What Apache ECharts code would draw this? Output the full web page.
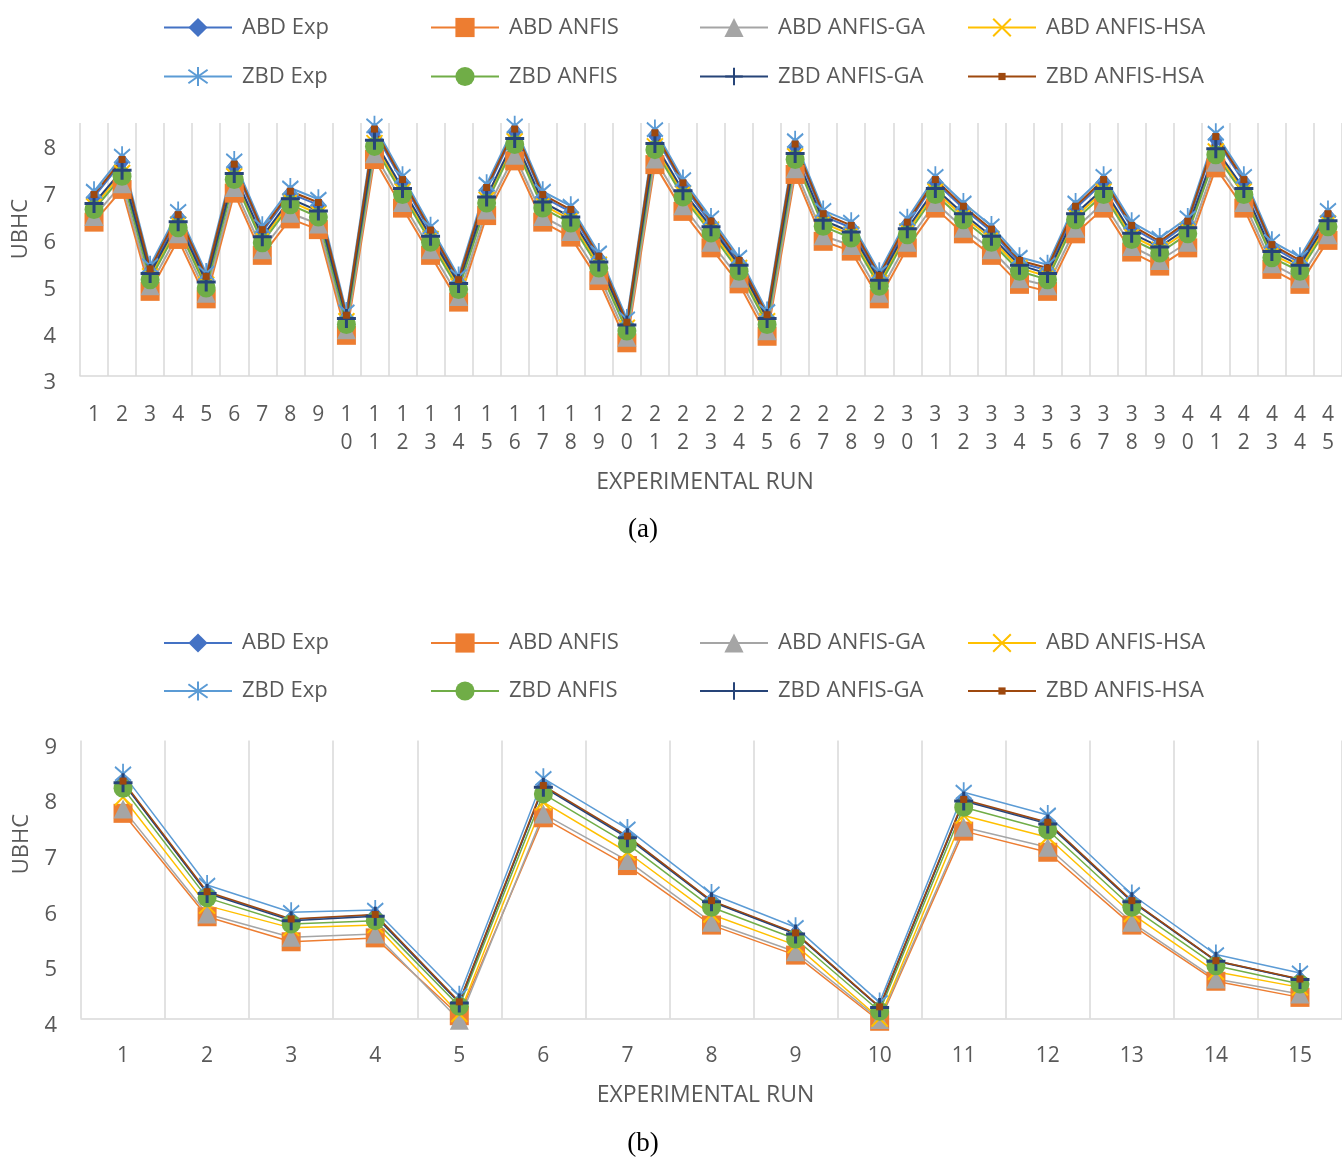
<!DOCTYPE html>
<html>
<head>
<meta charset="utf-8">
<script src="https://cdn.jsdelivr.net/npm/echarts@6/dist/echarts.min.js"></script>
<style>
  html, body { margin: 0; padding: 0; background: #ffffff; }
  #chart { width: 1342px; height: 1159px; }
</style>
</head>
<body>
<div id="chart"></div>
<script>
// ---- Panel (a): 45 experimental runs ----
const runsA = ['1','2','3','4','5','6','7','8','9','10','11','12','13','14','15','16','17','18','19','20',
  '21','22','23','24','25','26','27','28','29','30','31','32','33','34','35','36','37','38','39','40',
  '41','42','43','44','45'];

const abdExpA   = [6.83, 7.58, 5.24, 6.40, 5.08, 7.48, 6.08, 6.90, 6.66, 4.25, 8.23, 7.15, 6.07, 5.01, 6.98, 8.23, 6.83, 6.51, 5.51, 4.10, 8.15, 7.08, 6.26, 5.42, 4.26, 7.91, 6.42, 6.17, 5.10, 6.24, 7.15, 6.58, 6.09, 5.42, 5.26, 6.58, 7.15, 6.17, 5.83, 6.26, 8.07, 7.15, 5.76, 5.42, 6.42];
const abdAnfisA = [6.29, 6.99, 4.81, 5.92, 4.65, 6.91, 5.58, 6.36, 6.13, 3.87, 7.63, 6.59, 5.58, 4.58, 6.43, 7.60, 6.29, 5.97, 5.04, 3.71, 7.52, 6.52, 5.74, 4.97, 3.85, 7.31, 5.88, 5.67, 4.65, 5.74, 6.59, 6.04, 5.58, 4.96, 4.81, 6.04, 6.59, 5.65, 5.35, 5.74, 7.45, 6.59, 5.28, 4.96, 5.90];
const abdGaA    = [6.41, 7.11, 4.93, 6.04, 4.77, 7.03, 5.70, 6.48, 6.25, 3.99, 7.75, 6.71, 5.70, 4.70, 6.55, 7.72, 6.41, 6.09, 5.16, 3.83, 7.64, 6.64, 5.86, 5.09, 3.97, 7.43, 6.00, 5.79, 4.77, 5.86, 6.71, 6.16, 5.70, 5.08, 4.93, 6.16, 6.71, 5.77, 5.47, 5.86, 7.57, 6.71, 5.40, 5.08, 6.02];
const abdHsaA   = [6.63, 7.34, 5.13, 6.24, 4.95, 7.27, 5.92, 6.73, 6.47, 4.17, 7.98, 6.95, 5.93, 4.92, 6.77, 8.02, 6.66, 6.34, 5.38, 4.03, 7.91, 6.90, 6.13, 5.31, 4.17, 7.70, 6.27, 6.02, 4.99, 6.09, 6.95, 6.41, 5.93, 5.31, 5.13, 6.41, 6.95, 5.99, 5.70, 6.11, 7.80, 6.95, 5.60, 5.31, 6.26];
const zbdExpA   = [6.95, 7.70, 5.36, 6.52, 5.20, 7.60, 6.20, 7.02, 6.78, 4.37, 8.35, 7.27, 6.19, 5.13, 7.10, 8.35, 6.95, 6.63, 5.63, 4.22, 8.27, 7.20, 6.38, 5.54, 4.38, 8.03, 6.54, 6.29, 5.22, 6.36, 7.27, 6.70, 6.21, 5.54, 5.38, 6.70, 7.27, 6.29, 5.95, 6.38, 8.19, 7.27, 5.88, 5.54, 6.54];
const zbdAnfisA = [6.56, 7.27, 5.06, 6.17, 4.88, 7.20, 5.85, 6.66, 6.40, 4.10, 7.91, 6.88, 5.86, 4.85, 6.70, 7.95, 6.59, 6.27, 5.31, 3.96, 7.84, 6.83, 6.06, 5.24, 4.10, 7.63, 6.20, 5.95, 4.92, 6.02, 6.88, 6.34, 5.86, 5.24, 5.06, 6.34, 6.88, 5.92, 5.63, 6.04, 7.73, 6.88, 5.53, 5.24, 6.19];
const zbdGaA    = [6.69, 7.40, 5.19, 6.30, 5.01, 7.33, 5.98, 6.79, 6.53, 4.23, 8.04, 7.01, 5.99, 4.98, 6.83, 8.08, 6.72, 6.40, 5.44, 4.09, 7.97, 6.96, 6.19, 5.37, 4.23, 7.76, 6.33, 6.08, 5.05, 6.15, 7.01, 6.47, 5.99, 5.37, 5.19, 6.47, 7.01, 6.05, 5.76, 6.17, 7.86, 7.01, 5.66, 5.37, 6.32];
const zbdHsaA   = [6.88, 7.63, 5.29, 6.45, 5.13, 7.53, 6.13, 6.95, 6.71, 4.30, 8.28, 7.20, 6.12, 5.06, 7.03, 8.28, 6.88, 6.56, 5.56, 4.15, 8.20, 7.13, 6.31, 5.47, 4.31, 7.96, 6.47, 6.22, 5.15, 6.29, 7.20, 6.63, 6.14, 5.47, 5.31, 6.63, 7.20, 6.22, 5.88, 6.31, 8.12, 7.20, 5.81, 5.47, 6.47];

// ---- Panel (b): 15 experimental runs ----
const runsB = ['1','2','3','4','5','6','7','8','9','10','11','12','13','14','15'];

const abdExpB   = [8.25, 6.26, 5.78, 5.86, 4.29, 8.17, 7.27, 6.11, 5.53, 4.20, 7.92, 7.52, 6.11, 5.04, 4.70];
const abdAnfisB = [7.69, 5.83, 5.38, 5.45, 4.05, 7.61, 6.75, 5.68, 5.14, 3.95, 7.37, 6.99, 5.68, 4.67, 4.38];
const abdGaB    = [7.77, 5.88, 5.46, 5.52, 3.97, 7.68, 6.84, 5.73, 5.20, 3.98, 7.44, 7.08, 5.73, 4.71, 4.44];
const abdHsaB   = [7.98, 6.03, 5.63, 5.68, 4.08, 7.89, 6.99, 5.87, 5.32, 4.00, 7.65, 7.26, 5.88, 4.84, 4.56];
const zbdExpB   = [8.40, 6.40, 5.91, 5.95, 4.41, 8.32, 7.41, 6.24, 5.64, 4.29, 8.07, 7.66, 6.23, 5.15, 4.82];
const zbdAnfisB = [8.14, 6.17, 5.70, 5.76, 4.22, 8.04, 7.14, 6.00, 5.43, 4.13, 7.80, 7.39, 6.00, 4.95, 4.62];
const zbdGaB    = [8.24, 6.25, 5.76, 5.84, 4.28, 8.16, 7.25, 6.10, 5.52, 4.20, 7.91, 7.50, 6.10, 5.03, 4.70];
const zbdHsaB   = [8.27, 6.28, 5.79, 5.87, 4.30, 8.19, 7.28, 6.12, 5.54, 4.21, 7.94, 7.53, 6.12, 5.04, 4.71];

const seriesNames = ['ABD Exp', 'ABD ANFIS', 'ABD ANFIS-GA', 'ABD ANFIS-HSA',
                     'ZBD Exp', 'ZBD ANFIS', 'ZBD ANFIS-GA', 'ZBD ANFIS-HSA'];
const yTicksA = [3, 8.41];   // value axis range of panel (a)
const yTicksB = [4, 9];      // value axis range of panel (b)

// Marker look for each series (same order as seriesNames)
const STAR = 'path://M0,-10L0,10M-7,-7L7,7M-7,7L7,-7';
const PLUS = 'path://M-10,0L10,0M0,-10L0,10';
const CROSS = 'path://M-7,-7L7,7M-7,7L7,-7';
const markerStyles = [
  { color: '#4472C4', symbol: 'diamond',  size: [15, 19], stroke: 0, legendH: 24 },
  { color: '#ED7D31', symbol: 'rect',     size: 19,       stroke: 0, legendH: 24 },
  { color: '#A5A5A5', symbol: 'triangle', size: 19,       stroke: 0, legendH: 24 },
  { color: '#FFC000', symbol: CROSS,      size: 16,       stroke: 2, legendH: 22 },
  { color: '#5B9BD5', symbol: STAR,       size: [16, 20], stroke: 2, legendH: 24 },
  { color: '#70AD47', symbol: 'circle',   size: 19,       stroke: 0, legendH: 24 },
  { color: '#264478', symbol: PLUS,       size: 19,       stroke: 3, legendH: 22 },
  { color: '#9E480E', symbol: 'rect',     size: 7,        stroke: 0, legendH: 9 }
];

const dataA = [abdExpA, abdAnfisA, abdGaA, abdHsaA, zbdExpA, zbdAnfisA, zbdGaA, zbdHsaA];
const dataB = [abdExpB, abdAnfisB, abdGaB, abdHsaB, zbdExpB, zbdAnfisB, zbdGaB, zbdHsaB];

const TEXT = '#595959';
const GRIDLINE = '#d9d9d9';
const FONT = 'Open Sans';

function buildSeries(sets, axisIndex, lineWidth) {
  return seriesNames.map((name, i) => {
    const s = markerStyles[i];
    return {
      name: name,
      type: 'line',
      xAxisIndex: axisIndex,
      yAxisIndex: axisIndex,
      data: sets[i],
      symbol: s.symbol,
      symbolSize: s.size,
      showSymbol: true,
      showAllSymbol: true,
      clip: false,
      animation: false,
      lineStyle: { color: s.color, width: lineWidth },
      itemStyle: { color: s.color, borderColor: s.color, borderWidth: s.stroke },
      emphasis: { disabled: true }
    };
  });
}

// Legend: two rows of four entries for each panel
const legendCols = [163, 430, 699, 967];
function buildLegends(rowCenters) {
  const out = [];
  seriesNames.forEach((name, i) => {
    const r = Math.floor(i / 4), c = i % 4;
    const h = markerStyles[i].legendH;
    out.push({
      data: [name],
      left: legendCols[c],
      top: rowCenters[r] - 9,
      orient: 'horizontal',
      padding: 0,
      itemWidth: 68,
      itemHeight: h,
      selectedMode: false,
      textStyle: { color: TEXT, fontSize: 22, fontFamily: FONT, padding: [0, 0, 0, 5] }
    });
  });
  return out;
}

function categoryAxis(gridIndex, cats, stacked) {
  return {
    type: 'category',
    gridIndex: gridIndex,
    data: cats,
    boundaryGap: true,
    name: 'EXPERIMENTAL RUN',
    nameLocation: 'middle',
    nameGap: stacked ? 95 : 65,
    nameTextStyle: { color: TEXT, fontSize: 23, fontFamily: FONT, padding: [0, 12, 0, 0] },
    axisLine: { show: true, lineStyle: { color: GRIDLINE, width: 1.5 } },
    axisTick: { show: false },
    splitLine: { show: true, lineStyle: { color: GRIDLINE, width: 1.5 } },
    axisLabel: {
      interval: 0,
      color: TEXT,
      fontSize: 21,
      fontFamily: FONT,
      lineHeight: 28,
      margin: stacked ? 25 : 24,
      formatter: v => stacked ? String(v).split('').join('\n') : v
    }
  };
}

function valueAxis(gridIndex, range) {
  return {
    type: 'value',
    gridIndex: gridIndex,
    min: range[0],
    max: range[1],
    interval: 1,
    axisLine: { show: false },
    axisTick: { show: false },
    splitLine: { show: false },
    axisLabel: {
      color: TEXT,
      fontSize: 22,
      fontFamily: FONT,
      margin: 24,
      verticalAlign: 'top',
      lineHeight: 14,
      showMaxLabel: Number.isInteger(range[1]),
      formatter: v => (Math.abs(v - Math.round(v)) < 1e-6 ? String(Math.round(v)) : '')
    }
  };
}

const chart = echarts.init(document.getElementById('chart'), null, { renderer: 'canvas' });

chart.setOption({
  backgroundColor: '#ffffff',
  animation: false,
  legend: buildLegends([25.5, 74.5]).concat(buildLegends([641, 689])),
  grid: [
    { left: 80, top: 123, width: 1272, height: 253 },
    { left: 81, top: 740.5, width: 1270, height: 278 }
  ],
  xAxis: [categoryAxis(0, runsA, true), categoryAxis(1, runsB, false)],
  yAxis: [valueAxis(0, yTicksA), valueAxis(1, yTicksB)],
  series: buildSeries(dataA, 0, 2).concat(buildSeries(dataB, 1, 1.5)),
  graphic: [
    { type: 'text', x: 21, y: 229, rotation: Math.PI / 2,
      style: { text: 'UBHC', fill: TEXT, fontSize: 22, fontFamily: FONT, align: 'center', verticalAlign: 'middle' } },
    { type: 'text', x: 22, y: 844, rotation: Math.PI / 2,
      style: { text: 'UBHC', fill: TEXT, fontSize: 22, fontFamily: FONT, align: 'center', verticalAlign: 'middle' } },
    { type: 'text', x: 643, y: 530,
      style: { text: '(a)', fill: '#000000', fontSize: 27, fontFamily: 'Liberation Serif', align: 'center', verticalAlign: 'middle' } },
    { type: 'text', x: 643, y: 1144,
      style: { text: '(b)', fill: '#000000', fontSize: 27, fontFamily: 'Liberation Serif', align: 'center', verticalAlign: 'middle' } }
  ]
});
</script>
</body>
</html>
